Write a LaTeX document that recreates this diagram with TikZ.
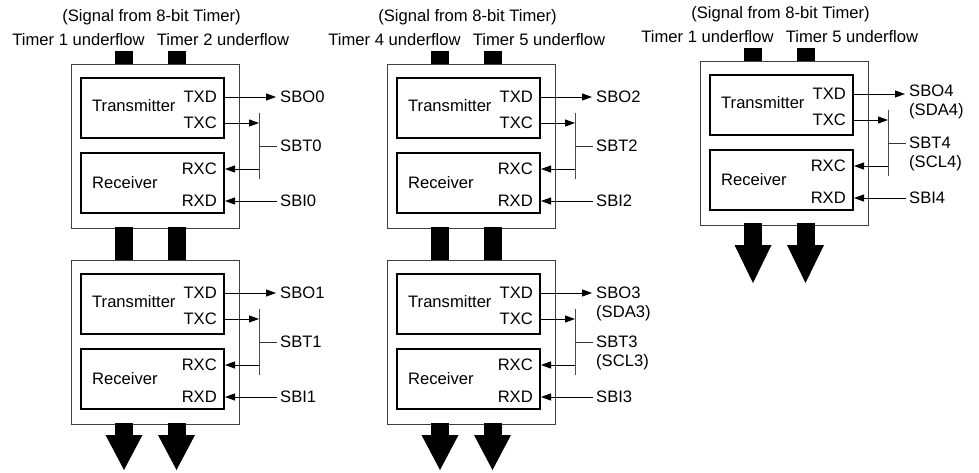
\documentclass[tikz,border=0pt]{standalone}
\usepackage{fontspec}
\setmainfont{Liberation Sans}
\usetikzlibrary{arrows.meta}
\tikzset{
  lbl/.style={inner sep=0pt, font=\fontsize{16.6}{19}\selectfont},
  outerbox/.style={draw=black!75, line width=1.2pt, inner sep=0pt, anchor=north west},
  innerbox/.style={draw=black, line width=2pt, inner sep=0pt, anchor=north west, minimum width=143, minimum height=60},
  sig/.style={line width=0.9pt, -{Triangle[length=10pt,width=7pt]}},
  bus/.style={draw=black!70, line width=1pt},
  thick bar/.style={fill=black}
}
\newcommand\serblock[7]{%
  % #1 prefix, #2 xshift, #3 yshift, #4 SBO, #5 SBT, #6 SBI, #7 SBO label y
  \begin{scope}[shift={(#2,#3)}]
    \node[outerbox, minimum width=168, minimum height=164] (#1out) at (71,64) {};
    \node[innerbox] (#1tx) at (80,77) {};
    \node[innerbox] (#1rx) at (80,152) {};
    \node[lbl, anchor=west] (#1txname) at (92,106) {Transmitter};
    \node[lbl, anchor=west] (#1rxname) at (92,183) {Receiver};
    \node[lbl, anchor=east] (#1txd) at (217,97) {TXD};
    \node[lbl, anchor=east] (#1txc) at (217,123) {TXC};
    \node[lbl, anchor=east] (#1rxc) at (217,169) {RXC};
    \node[lbl, anchor=east] (#1rxd) at (217,201) {RXD};
    \coordinate (#1bt) at (259,113);
    \coordinate (#1bb) at (259,179);
    \coordinate (#1o) at (276,97);
    \coordinate (#1t) at (277,146);
    \coordinate (#1i) at (277,201);
    \node[lbl, anchor=north west, align=left] (#1sbo) at (280,#7) {#4};
    \node[lbl, anchor=north west, align=left] (#1sbt) at (280,140) {#5};
    \node[lbl, anchor=north west, align=left] (#1sbi) at (280,195) {#6};
    \draw[sig] (#1tx.east |- #1txd) -- (#1o);
    \draw[sig] (#1tx.east |- #1txc) -- (#1bt |- #1txc);
    \draw[bus] (#1bt) -- (#1bb);
    \draw[line width=0.9pt, draw=black!80] (#1bt |- #1t) -- (#1t);
    \draw[sig] (#1bt |- #1rxc) -- (#1rx.east |- #1rxc);
    \draw[sig] (#1i) -- (#1rx.east |- #1rxd);
  \end{scope}}
\newcommand\timerlabels[5]{%
  % #1 prefix, #2 xshift, #3 yshift, #4 left timer, #5 right timer
  \begin{scope}[shift={(#2,#3)}]
    \node[lbl] (#1title) at (151.5,17) {(Signal from 8-bit Timer)};
    \node[lbl] (#1ta) at (78.5,40) {#4};
    \node[lbl] (#1tb) at (223,40) {#5};
    \fill[thick bar] (115,51) rectangle (133,64.6);
    \fill[thick bar] (167.5,51) rectangle (185.5,64.6);
  \end{scope}}
\newcommand\downarrows[4]{%
  % #1 xshift, #2 yshift (top of stem), #3 stem length, #4 head length
  \begin{scope}[shift={(#1,#2)}]
    \fill[thick bar] (115,0) rectangle (133,#3);
    \fill[thick bar] (167.5,0) rectangle (185.5,#3);
    \fill[thick bar] (105.5,#3) -- (142.5,#3) -- (124,#3+#4) -- cycle;
    \fill[thick bar] (158,#3) -- (195,#3) -- (176.5,#3+#4) -- cycle;
  \end{scope}}
\begin{document}
\begin{tikzpicture}[x=1pt, y=-1pt]
  \useasboundingbox (0,0) rectangle (979,473);
  % left column
  \timerlabels{L}{0}{0}{Timer 1 underflow}{Timer 2 underflow}
  \serblock{La}{0}{0}{SBO0}{SBT0}{SBI0}{91}
  \fill[thick bar] (115,227.4) rectangle (133,260.6);
  \fill[thick bar] (167.5,227.4) rectangle (185.5,260.6);
  \serblock{Lb}{0}{196}{SBO1}{SBT1}{SBI1}{91}
  \downarrows{0}{423.4}{11.6}{35}
  % middle column
  \timerlabels{M}{316}{0}{Timer 4 underflow}{Timer 5 underflow}
  \serblock{Ma}{316}{0}{SBO2}{SBT2}{SBI2}{91}
  \fill[thick bar] (431,227.4) rectangle (449,260.6);
  \fill[thick bar] (483.5,227.4) rectangle (501.5,260.6);
  \serblock{Mb}{316}{196}{SBO3\\(SDA3)}{SBT3\\(SCL3)}{SBI3}{91}
  \downarrows{316}{423.4}{11.6}{35}
  % right column
  \timerlabels{R}{629}{-3}{Timer 1 underflow}{Timer 5 underflow}
  \serblock{Ra}{629}{-3}{SBO4\\(SDA4)}{SBT4\\(SCL4)}{SBI4}{88}
  \downarrows{629}{223.4}{21.6}{38}
\end{tikzpicture}
\end{document}
